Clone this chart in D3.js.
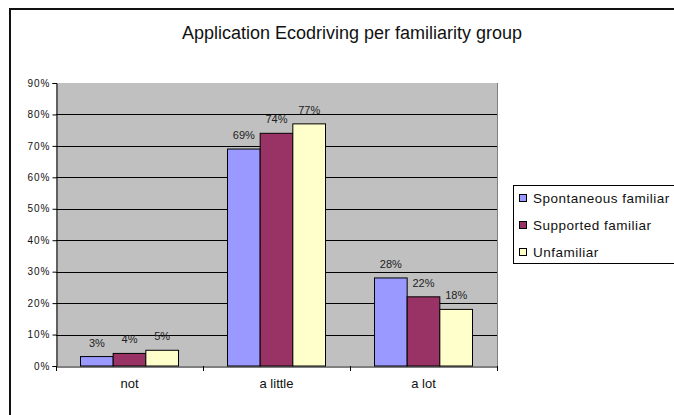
<!DOCTYPE html>
<html>
<head>
<meta charset="utf-8">
<script src="https://cdn.jsdelivr.net/npm/d3@7"></script>
<style>
  html, body { margin: 0; padding: 0; background: #fff; }
  svg { display: block; font-family: "Liberation Sans", Arial, sans-serif; }
</style>
</head>
<body>
<svg id="chart" width="674" height="415"></svg>
<script>
// Share of respondents applying eco-driving, by familiarity group
const categories = ["not", "a little", "a lot"];
const seriesNames = ["Spontaneous familiar", "Supported familiar", "Unfamiliar"];
const spontaneousFamiliar = [3, 69, 28];
const supportedFamiliar = [4, 74, 22];
const unfamiliar = [5, 77, 18];
const yTicks = [0, 10, 20, 30, 40, 50, 60, 70, 80, 90];
const seriesColors = ["#9999FF", "#993366", "#FFFFCC"];

const seriesValues = [spontaneousFamiliar, supportedFamiliar, unfamiliar];

const svg = d3.select("#chart");

// Outer chart frame (top and left edges visible in the window)
svg.append("line").attr("x1", 9).attr("x2", 674).attr("y1", 9).attr("y2", 9)
  .attr("stroke", "#111").attr("stroke-width", 2);
svg.append("line").attr("x1", 10).attr("x2", 10).attr("y1", 8).attr("y2", 415)
  .attr("stroke", "#111").attr("stroke-width", 2);

// Title
svg.append("text")
  .attr("x", 352).attr("y", 39)
  .attr("text-anchor", "middle")
  .attr("font-size", 18)
  .attr("fill", "#111")
  .text("Application Ecodriving per familiarity group");

const plot = { left: 56, right: 497, top: 83, bottom: 366 };

const x0 = d3.scaleBand()
  .domain(categories)
  .range([plot.left, plot.right])
  .paddingInner(0).paddingOuter(0);

// Excel-style gap width 150%: three bars + 1.5 bar of gap per category
const barW = x0.bandwidth() / 4.5;
const x1 = d3.scaleBand()
  .domain(seriesNames)
  .range([0, barW * 3]);
const groupOffset = (x0.bandwidth() - barW * 3) / 2;

const y = d3.scaleLinear().domain([0, 90]).range([plot.bottom, plot.top]);

// Plot background
svg.append("rect")
  .attr("x", plot.left).attr("y", plot.top)
  .attr("width", plot.right - plot.left).attr("height", plot.bottom - plot.top)
  .attr("fill", "#C0C0C0");
// right edge of plot area
svg.append("line")
  .attr("x1", plot.right + 0.5).attr("x2", plot.right + 0.5)
  .attr("y1", plot.top).attr("y2", plot.bottom)
  .attr("stroke", "#808080").attr("stroke-width", 1);

// Gridlines
svg.append("g")
  .selectAll("line")
  .data(yTicks.filter(t => t > 0 && t < 90))
  .join("line")
  .attr("x1", plot.left).attr("x2", plot.right)
  .attr("y1", d => Math.round(y(d)) + 0.5).attr("y2", d => Math.round(y(d)) + 0.5)
  .attr("stroke", "#000").attr("stroke-width", 1);

// Y axis
const yAxis = svg.append("g")
  .attr("transform", `translate(${plot.left + 0.5},0)`)
  .call(d3.axisLeft(y).tickValues(yTicks).tickSize(4).tickPadding(2)
    .tickFormat(d => d + "%"));
yAxis.select(".domain").attr("stroke", "#000");
yAxis.selectAll(".tick line").attr("stroke", "#000");
yAxis.selectAll("text")
  .attr("font-size", 10)
  .attr("letter-spacing", "1px")
  .attr("fill", "#111")
  .attr("font-family", "'Liberation Sans', Arial, sans-serif");

// X axis
const xAxis = svg.append("g")
  .attr("transform", `translate(0,${plot.bottom + 0.5})`)
  .call(d3.axisBottom(x0).tickSize(0).tickPadding(12));
xAxis.select(".domain").attr("stroke", "#000");
xAxis.selectAll("text")
  .attr("font-size", 13)
  .attr("fill", "#111")
  .attr("font-family", "'Liberation Sans', Arial, sans-serif");
// category boundary ticks
svg.append("g")
  .selectAll("line")
  .data(categories.map(c => x0(c)).concat([plot.right]))
  .join("line")
  .attr("x1", d => Math.round(d) + 0.5).attr("x2", d => Math.round(d) + 0.5)
  .attr("y1", plot.bottom).attr("y2", plot.bottom + 5)
  .attr("stroke", "#000");

// Bars
const groups = svg.append("g")
  .selectAll("g")
  .data(categories)
  .join("g")
  .attr("transform", c => `translate(${x0(c) + groupOffset},0)`);

groups.selectAll("rect")
  .data((c, i) => seriesNames.map((s, k) => ({ s, k, v: seriesValues[k][i] })))
  .join("rect")
  .attr("x", d => x1(d.s))
  .attr("y", d => y(d.v))
  .attr("width", x1.bandwidth())
  .attr("height", d => plot.bottom - y(d.v))
  .attr("fill", d => seriesColors[d.k])
  .attr("stroke", "#000")
  .attr("stroke-width", 1);

// Data labels
groups.selectAll("text")
  .data((c, i) => seriesNames.map((s, k) => ({ s, k, v: seriesValues[k][i] })))
  .join("text")
  .attr("x", d => x1(d.s) + x1.bandwidth() / 2)
  .attr("y", d => y(d.v) - 10)
  .attr("text-anchor", "middle")
  .attr("font-size", 11)
  .attr("fill", "#222")
  .text(d => d.v + "%");

// Legend
const legend = svg.append("g");
legend.append("rect")
  .attr("x", 513.5).attr("y", 185.5)
  .attr("width", 200).attr("height", 78)
  .attr("fill", "#fff").attr("stroke", "#000");
const items = legend.selectAll("g")
  .data(seriesNames)
  .join("g")
  .attr("transform", (d, i) => `translate(519,${198 + i * 27})`);
items.append("rect")
  .attr("x", 0.5).attr("y", -3.5)
  .attr("width", 7).attr("height", 7)
  .attr("fill", (d, i) => seriesColors[i])
  .attr("stroke", "#000");
items.append("text")
  .attr("x", 14).attr("y", 0)
  .attr("dy", "0.35em")
  .attr("font-size", 13.5)
  .attr("letter-spacing", "0.5px")
  .attr("fill", "#111")
  .text(d => d);
</script>
</body>
</html>
